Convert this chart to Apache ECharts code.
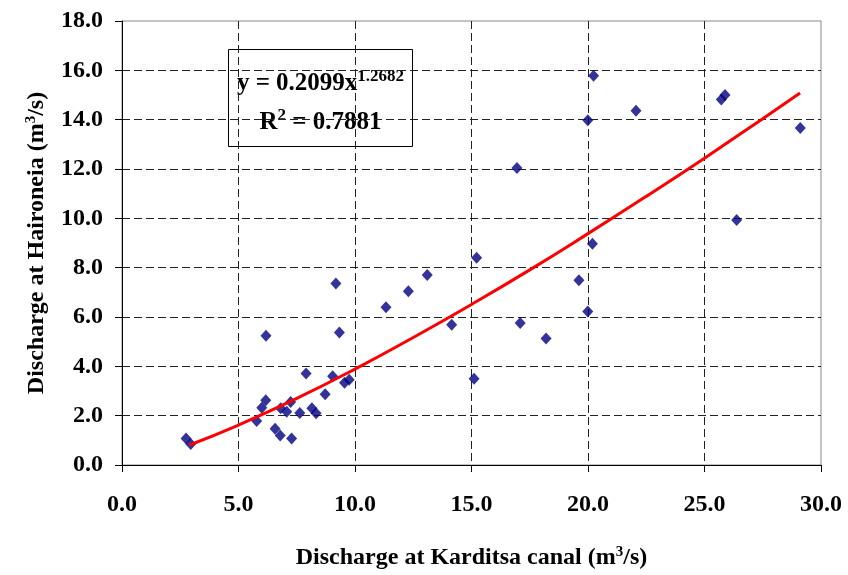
<!DOCTYPE html>
<html>
<head>
<meta charset="utf-8">
<script src="https://cdn.jsdelivr.net/npm/echarts@6/dist/echarts.min.js"></script>
<style>
html,body{margin:0;padding:0;background:#fff;}
#chart{width:848px;height:575px;}
</style>
</head>
<body>
<div id="chart"></div>
<script>
// Observed points: Karditsa canal discharge (x) vs Haironeia discharge (y)
var karditsa = [2.75, 2.95, 5.78, 6.0, 6.17, 6.18, 6.57, 6.79, 6.81, 7.07, 7.24, 7.28, 7.63, 7.9, 8.15, 8.33, 8.72, 9.04, 9.18, 9.33, 9.55, 9.75, 11.33, 12.29, 13.10, 14.15, 15.11, 15.22, 16.95, 17.09, 18.20, 19.61, 19.99, 19.99, 20.19, 20.24, 22.06, 25.72, 25.88, 26.38, 29.11];
var haironeia = [1.07, 0.85, 1.78, 2.32, 2.63, 5.24, 1.47, 1.20, 2.30, 2.16, 2.55, 1.07, 2.11, 3.71, 2.30, 2.10, 2.87, 3.60, 7.36, 5.37, 3.33, 3.46, 6.40, 7.04, 7.70, 5.69, 3.50, 8.40, 12.04, 5.76, 5.13, 7.49, 6.22, 13.98, 8.97, 15.78, 14.36, 14.82, 15.00, 9.93, 13.66];
// Power trendline as drawn
var trendX = [2.9, 5, 7.5, 10, 12.5, 15, 17.5, 20, 22.5, 25, 27.5, 29.1];
var trendY = [0.81, 1.62, 2.70, 3.89, 5.17, 6.51, 7.91, 9.38, 10.89, 12.44, 14.04, 15.08];
// Equation box text
var eqCoef = 'y = 0.2099x';
var eqExp = '1.2682';
var r2Value = ' = 0.7881';

var FONT = '"Liberation Serif", "Times New Roman", serif';

var scatterData = karditsa.map(function (x, i) { return [x, haironeia[i]]; });
var trendData = trendX.map(function (x, i) { return [x, trendY[i]]; });

var chart = echarts.init(document.getElementById('chart'), null, {renderer: 'canvas'});

var labelStyle = {fontFamily: FONT, fontWeight: 'bold', fontSize: 24, color: '#000'};
var nameRich = {
  a: {fontFamily: FONT, fontWeight: 'bold', fontSize: 24, color: '#000', lineHeight: 26},
  s: {fontFamily: FONT, fontWeight: 'bold', fontSize: 15, color: '#000', lineHeight: 26, verticalAlign: 'top'}
};

var option = {
  backgroundColor: '#fff',
  animation: false,
  grid: {left: 122, right: 27, top: 21, bottom: 107, show: true, borderColor: '#888', borderWidth: 1, backgroundColor: 'transparent'},
  xAxis: {
    type: 'value', min: 0, max: 30, interval: 5,
    name: '{a|Discharge at Karditsa canal (m}{s|3}{a|/s)}',
    nameLocation: 'middle', nameGap: 80,
    nameTextStyle: {rich: nameRich},
    axisLine: {show: true, onZero: false, lineStyle: {color: '#000', width: 1}},
    axisTick: {show: true, inside: false, length: 7, lineStyle: {color: '#000'}},
    axisLabel: Object.assign({margin: 28, formatter: function (v) { return v.toFixed(1); }}, labelStyle),
    splitLine: {show: true, showMinLine: false, showMaxLine: false, lineStyle: {color: '#222', type: [8, 4], width: 1}}
  },
  yAxis: {
    type: 'value', min: 0, max: 18, interval: 2,
    name: '{a|Discharge at Haironeia (m}{s|3}{a|/s)}',
    nameLocation: 'middle', nameGap: 72, nameRotate: 90,
    nameTextStyle: {rich: nameRich},
    axisLine: {show: true, onZero: false, lineStyle: {color: '#000', width: 1}},
    axisTick: {show: true, inside: false, length: 7, lineStyle: {color: '#000'}},
    axisLabel: Object.assign({margin: 19, formatter: function (v) { return v.toFixed(1); }}, labelStyle),
    splitLine: {show: true, showMinLine: false, showMaxLine: false, lineStyle: {color: '#222', type: [8, 4], width: 1}}
  },
  series: [
    {
      type: 'line', data: trendData, smooth: true, showSymbol: false, symbol: 'none',
      lineStyle: {color: '#ff0000', width: 3}, z: 3
    },
    {
      type: 'scatter', data: scatterData, symbol: 'diamond', symbolSize: [11, 12],
      itemStyle: {color: '#000080'}, z: 2
    }
  ],
  graphic: [
    {
      type: 'group', left: 228, top: 49, z: 100,
      children: [
        {type: 'rect', shape: {x: 0, y: 0, width: 184, height: 97}, style: {fill: '#fff', stroke: '#000', lineWidth: 1}},
        {type: 'text', x: 92, y: 34, style: {
          text: '{a|' + eqCoef + '}{s|' + eqExp + '}', align: 'center', verticalAlign: 'middle',
          rich: {
            a: {fontFamily: FONT, fontWeight: 'bold', fontSize: 25, fill: '#000', lineHeight: 30},
            s: {fontFamily: FONT, fontWeight: 'bold', fontSize: 17, fill: '#000', lineHeight: 30, verticalAlign: 'top'}
          }
        }},
        {type: 'text', x: 92, y: 73, style: {
          text: '{a|R}{s|2}{a|' + r2Value + '}', align: 'center', verticalAlign: 'middle',
          rich: {
            a: {fontFamily: FONT, fontWeight: 'bold', fontSize: 25, fill: '#000', lineHeight: 30},
            s: {fontFamily: FONT, fontWeight: 'bold', fontSize: 17, fill: '#000', lineHeight: 30, verticalAlign: 'top'}
          }
        }}
      ]
    }
  ]
};
chart.setOption(option);
</script>
</body>
</html>
